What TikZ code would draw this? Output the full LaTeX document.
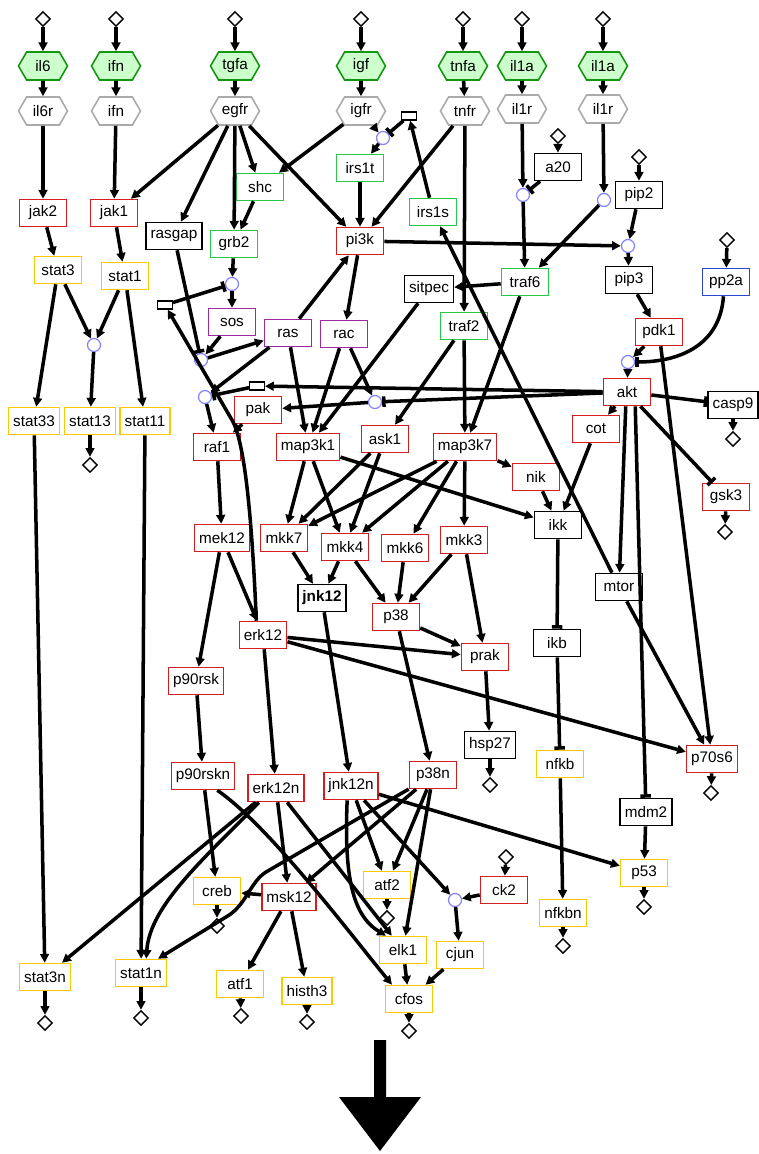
\documentclass[tikz,border=0pt]{standalone}
\usepackage{fontspec}
\setmainfont{Liberation Sans}
\usetikzlibrary{arrows.meta, shapes.geometric, shapes.symbols}
\definecolor{kinred}{RGB}{210,30,30}
\definecolor{adpgreen}{RGB}{40,200,70}
\definecolor{gtppurple}{RGB}{160,40,160}
\definecolor{phoblue}{RGB}{40,70,210}
\definecolor{tfyellow}{RGB}{255,200,0}
\definecolor{liggreen}{RGB}{20,150,20}
\definecolor{ligfill}{RGB}{205,255,205}
\definecolor{recgray}{RGB}{170,170,170}
\definecolor{gateblue}{RGB}{130,130,255}

\begin{document}
\begin{tikzpicture}[x=0.02cm, y=-0.02cm,
    font=\fontsize{8.7}{10.4}\selectfont,
    box/.style={rectangle, draw, line width=0.9pt, fill=white, minimum width=0.94cm, minimum height=0.54cm, inner xsep=0.09cm, inner ysep=0pt},
    kin/.style={box, draw=kinred},
    adp/.style={box, draw=adpgreen},
    gtp/.style={box, draw=gtppurple},
    pho/.style={box, draw=phoblue},
    tf/.style={box, draw=tfyellow},
    oth/.style={box, draw=black},
    lig/.style={signal, signal to=west and east, signal pointer angle=120, draw=liggreen, fill=ligfill, line width=0.9pt, minimum height=0.56cm, minimum width=0.98cm, inner sep=0pt},
    rec/.style={lig, draw=recgray, fill=white},
    ext/.style={diamond, draw, fill=white, line width=0.8pt, minimum size=0.3cm, inner sep=0pt},
    gate/.style={circle, draw=gateblue, fill=white, line width=0.7pt, minimum size=0.26cm, inner sep=0pt},
    tag/.style={rectangle, draw, fill=white, line width=0.8pt, minimum width=0.29cm, minimum height=0.16cm, inner sep=0pt},
    act/.style={line width=2pt, -{Triangle[length=5pt, width=5pt]}},
    inh/.style={line width=2pt, -{Bar[width=6pt]}}]
  \useasboundingbox (0,0) rectangle (759,1154);

  % stimuli and receptors
  \node[ext] (il6in) at (43,19) {};
  \node[ext] (ifnin) at (116,19) {};
  \node[ext] (tgfain) at (235,19) {};
  \node[ext] (igfin) at (361,19) {};
  \node[ext] (tnfain) at (463,19) {};
  \node[ext] (il1ain) at (522,19) {};
  \node[ext] (il1bin) at (603,19) {};
  \node[lig] (il6) at (43,66) {il6};
  \node[lig] (ifn) at (116,66) {ifn};
  \node[lig] (tgfa) at (235,66) {tgfa};
  \node[lig] (igf) at (361,66) {igf};
  \node[lig] (tnfa) at (463,66) {tnfa};
  \node[lig] (il1a) at (522,66) {il1a};
  \node[lig] (il1b) at (603,66) {il1a};
  \node[rec] (il6r) at (43,111) {il6r};
  \node[rec] (ifnr) at (116,111) {ifn};
  \node[rec] (egfr) at (235,111) {egfr};
  \node[rec] (igfr) at (361,111) {igfr};
  \node[rec] (tnfr) at (465,111) {tnfr};
  \node[rec] (il1r) at (522,109) {il1r};
  \node[rec] (il1rb) at (603,109) {il1r};

  % extra inputs
  \node[ext] (a20in) at (558,136) {};
  \node[ext] (pip2in) at (639,157) {};
  \node[ext] (pp2ain) at (727,240) {};
  \node[ext] (ck2in) at (506,857) {};

  % gates
  \node[gate] (cirs) at (383,138) {};
  \node[gate] (ctraf) at (523,195) {};
  \node[gate] (cil1) at (604,200) {};
  \node[gate] (cpip) at (628,246) {};
  \node[gate] (csos) at (232,284) {};
  \node[gate] (cstat) at (94,345) {};
  \node[gate] (cras) at (201,360) {};
  \node[gate] (cakt) at (628,362) {};
  \node[gate] (craf) at (205,397) {};
  \node[gate] (cpak) at (375,402) {};
  \node[gate] (cjn) at (455,900) {};
  \node[tag] (tirs) at (409,116) {};
  \node[tag] (tsos) at (165,305) {};
  \node[tag] (traf) at (257,386) {};

  % species
  \node[kin] (jak2) at (43,213) {jak2};
  \node[kin] (jak1) at (114,213) {jak1};
  \node[oth] (rasgap) at (174,236) {rasgap};
  \node[adp] (shc) at (260,187) {shc};
  \node[adp] (irs1t) at (360,168) {irs1t};
  \node[oth] (a20) at (558,167) {a20};
  \node[oth] (pip2) at (639,195) {pip2};
  \node[adp] (grb2) at (234,244) {grb2};
  \node[kin] (pi3k) at (360,241) {pi3k};
  \node[adp] (irs1s) at (433,212) {irs1s};
  \node[adp] (traf6) at (525,282) {traf6};
  \node[oth] (pip3) at (629,280) {pip3};
  \node[pho] (pp2a) at (726,282) {pp2a};
  \node[tf] (stat3) at (58,270) {stat3};
  \node[tf] (stat1) at (125,276) {stat1};
  \node[oth] (sitpec) at (429,289) {sitpec};
  \node[adp] (traf2) at (464,326) {traf2};
  \node[gtp] (sos) at (232,322) {sos};
  \node[gtp] (ras) at (288,333) {ras};
  \node[gtp] (rac) at (344,334) {rac};
  \node[kin] (pdk1) at (659,332) {pdk1};
  \node[kin] (akt) at (627,392) {akt};
  \node[oth] (casp9) at (733,405) {casp9};
  \node[kin] (pak) at (258,410) {pak};
  \node[tf] (stat33) at (34,421) {stat33};
  \node[tf] (stat13) at (90,421) {stat13};
  \node[tf] (stat11) at (145,421) {stat11};
  \node[kin] (cot) at (596,429) {cot};
  \node[kin] (ask1) at (385,439) {ask1};
  \node[kin] (raf1) at (217,447) {raf1};
  \node[kin] (map3k1) at (308,447) {map3k1};
  \node[kin] (map3k7) at (465,447) {map3k7};
  \node[kin] (nik) at (536,477) {nik};
  \node[kin] (gsk3) at (726,497) {gsk3};
  \node[oth] (ikk) at (558,525) {ikk};
  \node[kin] (mek12) at (222,538) {mek12};
  \node[kin] (mkk7) at (284,538) {mkk7};
  \node[kin] (mkk4) at (345,547) {mkk4};
  \node[kin] (mkk6) at (405,548) {mkk6};
  \node[kin] (mkk3) at (464,540) {mkk3};
  \node[oth] (mtor) at (619,587) {mtor};
  \node[oth] (jnk12) at (322,598) {\bfseries jnk12};
  \node[kin] (p38) at (396,617) {p38};
  \node[kin] (erk12) at (263,635) {erk12};
  \node[oth] (ikb) at (557,643) {ikb};
  \node[kin] (prak) at (485,657) {prak};
  \node[kin] (p90rsk) at (196,681) {p90rsk};
  \node[oth] (hsp27) at (490,745) {hsp27};
  \node[kin] (p70s6) at (712,759) {p70s6};
  \node[tf] (nfkb) at (560,764) {nfkb};
  \node[kin] (p90rskn) at (203,776) {p90rskn};
  \node[kin] (p38n) at (433,775) {p38n};
  \node[kin] (jnk12n) at (351,786) {jnk12n};
  \node[kin] (erk12n) at (276,788) {erk12n};
  \node[oth] (mdm2) at (646,812) {mdm2};
  \node[tf] (p53) at (644,873) {p53};
  \node[tf] (atf2) at (387,885) {atf2};
  \node[tf] (creb) at (217,891) {creb};
  \node[kin] (ck2) at (504,890) {ck2};
  \node[kin] (msk12) at (289,897) {msk12};
  \node[tf] (nfkbn) at (563,913) {nfkbn};
  \node[tf] (elk1) at (403,950) {elk1};
  \node[tf] (cjun) at (460,955) {cjun};
  \node[tf] (stat1n) at (141,973) {stat1n};
  \node[tf] (stat3n) at (45,977) {stat3n};
  \node[tf] (atf1) at (240,984) {atf1};
  \node[tf] (histh3) at (307,991) {histh3};
  \node[tf] (cfos) at (409,999) {cfos};

  % outputs
  \node[ext] (stat13out) at (90,465) {};
  \node[ext] (casp9out) at (733,439) {};
  \node[ext] (gsk3out) at (725,532) {};
  \node[ext] (hsp27out) at (490,785) {};
  \node[ext] (p70s6out) at (711,793) {};
  \node[ext] (p53out) at (644,907) {};
  \node[ext] (nfkbnout) at (563,946) {};
  \node[ext] (crebout) at (217,926) {};
  \node[ext] (atf2out) at (387,918) {};
  \node[ext] (stat3nout) at (45,1023) {};
  \node[ext] (stat1nout) at (141,1018) {};
  \node[ext] (atf1out) at (241,1016) {};
  \node[ext] (histh3out) at (307,1022) {};
  \node[ext] (cfosout) at (409,1031) {};

  % edges
  \foreach \a/\b in {il6in/il6, ifnin/ifn, tgfain/tgfa, igfin/igf, tnfain/tnfa, il1ain/il1a, il1bin/il1b,
      il6/il6r, ifn/ifnr, tgfa/egfr, igf/igfr, tnfa/tnfr, il1a/il1r, il1b/il1rb,
      a20in/a20, pip2in/pip2, pp2ain/pp2a, ck2in/ck2}
    \draw[act] (\a) -- (\b);
  \foreach \a/\b in {il6r/jak2, ifnr/jak1, egfr/jak1, egfr/rasgap, egfr/grb2, egfr/shc, egfr/pi3k,
      igfr/shc, igfr/cirs, cirs/irs1t, irs1s/tirs, irs1t/pi3k, tnfr/pi3k, tnfr/traf2,
      il1r/ctraf, ctraf/traf6, il1rb/cil1, cil1/traf6,
      pip2/cpip, pi3k/cpip, cpip/pip3, pip3/pdk1, pdk1/cakt, cakt/akt,
      shc/grb2, grb2/csos, csos/sos, sos/cras, cras/ras,
      ras/pi3k, pi3k/rac, ras/map3k1, rac/map3k1, rac/cpak, cpak/pak, pak/raf1,
      ras/craf, akt/traf, craf/raf1,
      traf6/sitpec, sitpec/map3k1, traf6/map3k7, traf2/ask1, traf2/map3k7,
      jak2/stat3, jak1/stat1, stat3/stat33, stat3/cstat, stat1/cstat, cstat/stat13, stat1/stat11,
      akt/cot, mtor/irs1s, mtor/p70s6, pdk1/p70s6,
      cot/ikk, nik/ikk, map3k1/ikk, map3k7/nik, nfkb/nfkbn,
      map3k1/mkk7, map3k1/mkk4, ask1/mkk7, ask1/mkk4,
      map3k7/mkk7, map3k7/mkk4, map3k7/mkk6, map3k7/mkk3,
      raf1/mek12, mek12/p90rsk, mek12/erk12,
      mkk7/jnk12, mkk4/jnk12, mkk4/p38, mkk6/p38, mkk3/p38, mkk3/prak,
      p38/prak, erk12/prak, erk12/p70s6, prak/hsp27,
      jnk12/jnk12n, p38/p38n, erk12/erk12n, p90rsk/p90rskn,
      p90rskn/creb, erk12n/msk12, erk12n/elk1, p38n/msk12, p38n/atf2, p38n/elk1,
      jnk12n/atf2, jnk12n/cjn, jnk12n/p53, ck2/cjn, cjn/cjun, elk1/cfos, cjun/cfos,
      msk12/creb, msk12/atf1, msk12/histh3, mdm2/p53, stat33/stat3n, stat11/stat1n,
      stat13/stat13out, casp9/casp9out, gsk3/gsk3out, hsp27/hsp27out, p70s6/p70s6out,
      p53/p53out, nfkbn/nfkbnout, creb/crebout, atf2/atf2out, stat3n/stat3nout,
      stat1n/stat1nout, atf1/atf1out, histh3/histh3out, cfos/cfosout}
    \draw[act] (\a) -- (\b);
  \foreach \a/\b in {tirs/cirs, a20/ctraf, tsos/csos, rasgap/cras, traf/craf, akt/cpak,
      akt/casp9, akt/gsk3, ikk/ikb, ikb/nfkb}
    \draw[inh] (\a) -- (\b);
  \draw[act] (akt.-95) -- (mtor);
  \draw[inh] (akt.-60) -- (mdm2);
  \draw[inh] (pp2a.-100) .. controls (720,345) and (680,362) .. (cakt);
  \draw[act] (erk12.115) .. controls (252,520) and (245,442) .. (232,420) -- (tsos);
  \draw[act] (erk12n.215) -- (stat3n.40);
  \draw[act] (erk12n.220) .. controls (205,858) and (150,905) .. (stat1n.70);
  \draw[act] (p38n) -- (266,872) .. controls (250,882) and (246,906) .. (226,917) -- (stat1n.40);
  \draw[act] (jnk12n.255) .. controls (344,875) and (352,915) .. (elk1.140);
  \draw[act] (p90rskn.-45) .. controls (268,825) and (348,931) .. (cfos.140);

  \fill (374,1040) -- (386,1040) -- (386,1097) -- (421,1097) -- (380,1151) -- (339,1097) -- (374,1097) -- cycle;
\end{tikzpicture}
\end{document}
